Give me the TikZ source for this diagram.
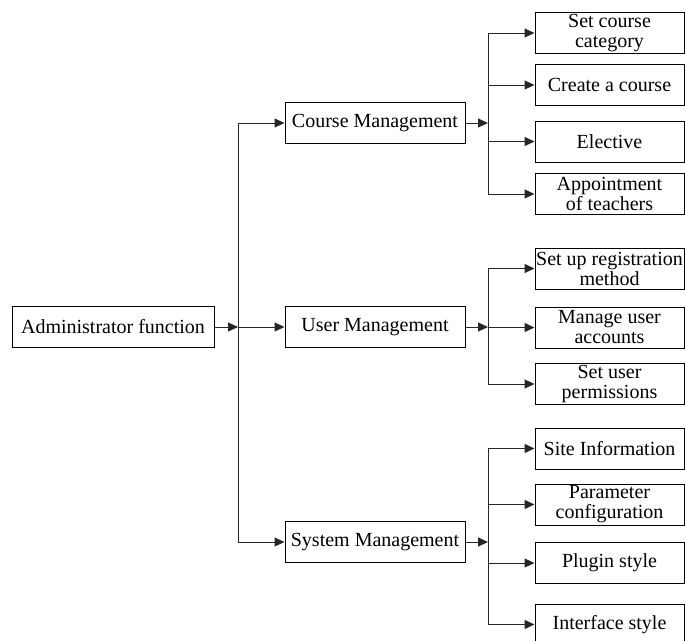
\documentclass[tikz,border=0pt]{standalone}
\usepackage{fontspec}
\setmainfont{Liberation Serif}
\usetikzlibrary{arrows.meta}
\begin{document}
\begin{tikzpicture}[x=1pt,y=-1pt,
  box/.style={draw=black,line width=1pt,inner xsep=0pt,inner ysep=0pt,align=center,
    font=\fontsize{20}{20}\selectfont,minimum height=41pt},
  lbox/.style={box,minimum width=202pt},
  mbox/.style={box,minimum width=180pt},
  rbox/.style={box,minimum width=149pt},
  conn/.style={line width=1pt,draw=black!85},
  arr/.style={conn,-{Triangle[length=10pt,width=9pt]}}]
\useasboundingbox (0,0) rectangle (685,640);
% nodes
\node[lbox] (admin) at (113,327) {Administrator function};
\node[mbox] (cm) at (375,123) {Course Management};
\node[mbox] (um) at (375,327) {User Management};
\node[mbox] (sm) at (375,542) {System Management};
\node[rbox] (c1) at (609.5,33) {Set course\\category};
\node[rbox] (c2) at (609.5,85) {Create a course};
\node[rbox] (c3) at (609.5,141.5) {Elective};
\node[rbox] (c4) at (609.5,194) {Appointment\\of teachers};
\node[rbox] (u1) at (609.5,268.5) {Set up registration\\method};
\node[rbox] (u2) at (609.5,327.5) {Manage user\\accounts};
\node[rbox] (u3) at (609.5,384) {Set user\\permissions};
\node[rbox] (s1) at (609.5,448.5) {Site Information};
\node[rbox] (s2) at (609.5,504.5) {Parameter\\configuration};
\node[rbox] (s3) at (609.5,563) {Plugin style};
\node[rbox] (s4) at (609.5,624.5) {Interface style};
% bus coordinates
\coordinate (bm) at (238,327);
\coordinate (bc) at (488,123);
\coordinate (bu) at (488,327);
\coordinate (bs) at (488,542);
% main bus
\draw[arr] (admin.east) -- (bm);
\draw[conn] (bm |- cm.west) -- (bm |- sm.west);
\draw[arr] (bm |- cm.west) -- (cm.west);
\draw[arr] (bm) -- (um.west);
\draw[arr] (bm |- sm.west) -- (sm.west);
% course bus
\draw[arr] (cm.east) -- (bc);
\draw[conn] (bc |- c1.west) -- (bc |- c4.west);
\foreach \n in {c1,c2,c3,c4} \draw[arr] (bc |- \n.west) -- (\n.west);
% user bus
\draw[arr] (um.east) -- (bu);
\draw[conn] (bu |- u1.west) -- (bu |- u3.west);
\foreach \n in {u1,u2,u3} \draw[arr] (bu |- \n.west) -- (\n.west);
% system bus
\draw[arr] (sm.east) -- (bs);
\draw[conn] (bs |- s1.west) -- (bs |- s4.west);
\foreach \n in {s1,s2,s3,s4} \draw[arr] (bs |- \n.west) -- (\n.west);
\end{tikzpicture}
\end{document}
